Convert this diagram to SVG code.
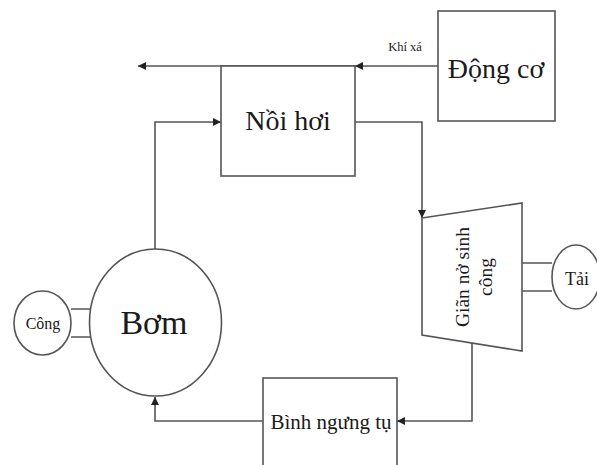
<svg xmlns="http://www.w3.org/2000/svg" width="597" height="465" viewBox="0 0 597 465">
<defs>
<marker id="ah" viewBox="0 0 10 10" refX="10" refY="5" markerWidth="8" markerHeight="8" markerUnits="userSpaceOnUse" orient="auto">
<path d="M0,0 L10,5 L0,10 z" fill="#222"/>
</marker>
<style>
.box{fill:#fff;stroke:#555;stroke-width:1.6}
.ln{fill:none;stroke:#555;stroke-width:1.6}
.t{font-family:"Liberation Serif","Times New Roman",serif;fill:#1a1a1a;text-anchor:middle;dominant-baseline:central}
</style>
</defs>
<rect width="597" height="465" fill="#fff"/>
<g id="connectors">
<path class="ln" d="M438,66 L355,66" marker-end="url(#ah)"/>
<path class="ln" d="M355,66 L138,66" marker-end="url(#ah)"/>
<path class="ln" d="M155,249 L155,122 L221,122" marker-end="url(#ah)"/>
<path class="ln" d="M355,122 L422,122 L422,218" marker-end="url(#ah)"/>
<path class="ln" d="M472,343 L472,421 L397,421" marker-end="url(#ah)"/>
<path class="ln" d="M263,421 L155,421 L155,397" marker-end="url(#ah)"/>
<path class="ln" d="M522,263 L552,263 M522,291 L552,291"/>
<path class="ln" d="M71,309 L92,309 M71,337 L92,337"/>
</g>
<g id="dong-co">
<rect class="box" x="438" y="11" width="117" height="110"/>
<text class="t" x="496" y="68" font-size="28">Động cơ</text>
</g>
<g id="khi-xa-label">
<text class="t" x="405" y="47" font-size="12.5">Khí xá</text>
</g>
<g id="noi-hoi">
<rect class="box" x="221" y="66" width="134" height="110"/>
<text class="t" x="288" y="120" font-size="28">Nồi hơi</text>
</g>
<g id="gian-no">
<path class="box" d="M422,218 L522,203 L522,351 L422,335 Z"/>
<text class="t" font-size="19.5" transform="translate(462,277) rotate(-90)">Giãn nở sinh</text>
<text class="t" font-size="19.5" transform="translate(485,277) rotate(-90)">công</text>
</g>
<g id="tai">
<ellipse class="box" cx="576" cy="277" rx="24" ry="32"/>
<text class="t" x="577" y="279" font-size="18">Tải</text>
</g>
<g id="binh-ngung-tu">
<rect class="box" x="263" y="378" width="134" height="95"/>
<text class="t" x="331" y="422" font-size="21">Bình ngưng tụ</text>
</g>
<g id="bom">
<ellipse class="box" cx="155.5" cy="322.5" rx="66" ry="73.5"/>
<text class="t" x="154" y="322" font-size="34">Bơm</text>
</g>
<g id="cong">
<ellipse class="box" cx="42.5" cy="323" rx="28.5" ry="32"/>
<text class="t" x="43" y="323" font-size="16">Công</text>
</g>
</svg>
